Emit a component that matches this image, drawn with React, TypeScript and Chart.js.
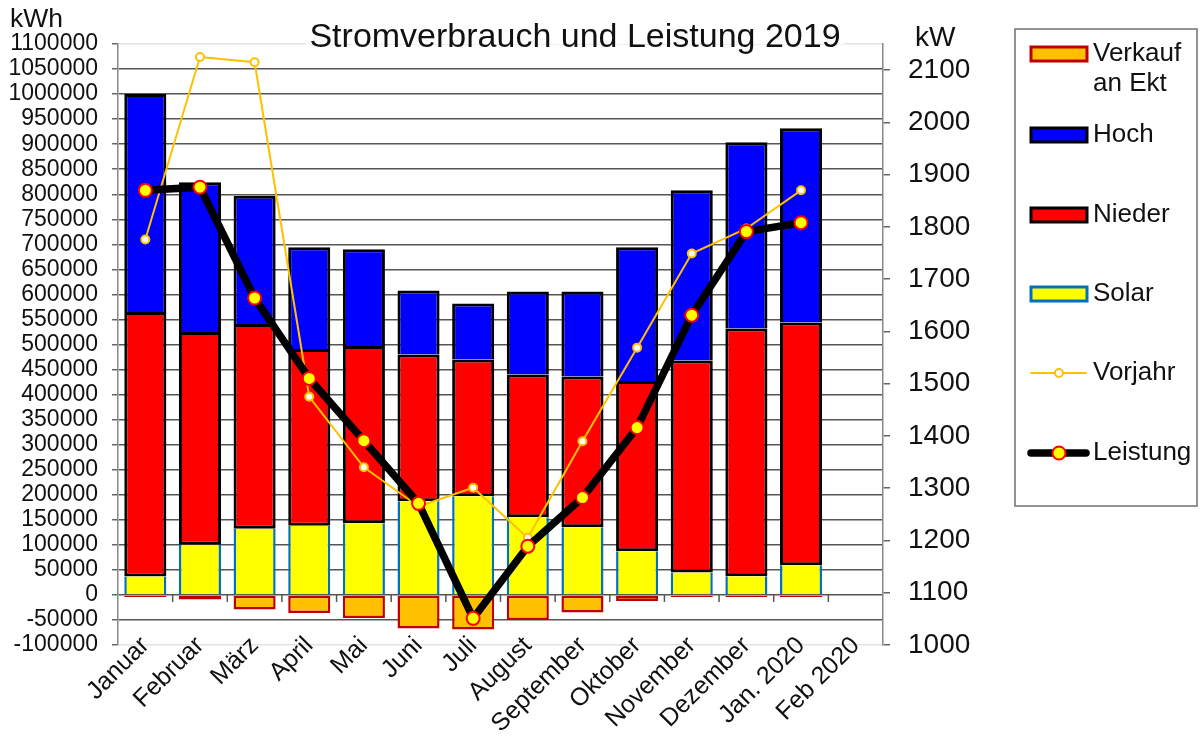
import React, { useEffect, useRef } from 'react';
import { Chart, registerables } from 'chart.js';

Chart.register(...registerables);

const FONT = '"Liberation Sans", Arial, Helvetica, sans-serif';

const categories = ['Januar', 'Februar', 'März', 'April', 'Mai', 'Juni', 'Juli', 'August', 'September', 'Oktober', 'November', 'Dezember', 'Jan. 2020', 'Feb 2020'];

// kWh (left axis)
const verkauf = [-4000, -9000, -29000, -36000, -46000, -67000, -69000, -50000, -35000, -12000, -4000, -4000, -4000, null];
const solar = [37000, 100000, 132000, 138000, 143000, 187000, 197000, 155000, 135000, 87000, 45000, 37500, 59000, null];
const nieder = [528000, 425000, 409000, 353000, 354000, 293000, 273000, 285000, 301000, 340000, 423000, 494500, 485000, null];
const hoch = [435000, 299000, 256000, 203000, 193000, 128000, 112000, 166000, 170000, 267000, 340000, 372000, 388000, null];

// kW (right axis)
const vorjahr = [1776, 2125, 2115, 1475, 1340, 1265, 1301, 1205, 1390, 1569, 1749, 1797, 1870, null];
const leistung = [1870, 1876, 1664, 1510, 1391, 1271, 1051, 1189, 1282, 1416, 1631, 1791, 1808, null];

const legendLabels = ['Verkauf\nan Ekt', 'Hoch', 'Nieder', 'Solar', 'Vorjahr', 'Leistung'];
const titleText = 'Stromverbrauch und Leistung 2019';

const decorPlugin = {
  id: 'decor',
  beforeDatasetsDraw(chart: any) {
    const { ctx, scales } = chart;
    const x = scales.x;
    const y = scales.y;
    const y0 = y.getPixelForValue(0);
    ctx.save();
    ctx.strokeStyle = '#555';
    ctx.lineWidth = 1.5;
    for (let i = 1; i < categories.length; i++) {
      const px = (x.getPixelForValue(i - 1) + x.getPixelForValue(i)) / 2;
      ctx.beginPath();
      ctx.moveTo(px, y0);
      ctx.lineTo(px, y0 + 7);
      ctx.stroke();
    }
    ctx.restore();
  },
  afterDraw(chart: any) {
    const { ctx } = chart;
    ctx.save();
    // title
    ctx.font = `34px ${FONT}`;
    const tw = ctx.measureText(titleText).width;
    const cx = 575;
    ctx.fillStyle = '#ffffff';
    ctx.fillRect(cx - tw / 2 - 4, 14, tw + 8, 30);
    ctx.fillStyle = '#111';
    ctx.textAlign = 'center';
    ctx.textBaseline = 'alphabetic';
    ctx.fillText(titleText, cx, 47);

    // axis unit labels
    ctx.textAlign = 'left';
    ctx.font = `26.5px ${FONT}`;
    ctx.fillText('kWh', 10, 27);
    ctx.font = `28px ${FONT}`;
    ctx.fillText('kW', 915, 46);

    // legend box
    ctx.strokeStyle = '#707070';
    ctx.lineWidth = 1.5;
    ctx.strokeRect(1015, 29, 182, 477);

    const ds = chart.data.datasets;
    const order = [0, 3, 2, 1, 5, 4]; // dataset indices in legend order
    const centers = [54, 135, 215, 294, 373, 453];
    ctx.font = `26px ${FONT}`;
    ctx.textBaseline = 'middle';
    order.forEach((di: number, k: number) => {
      const d = ds[di];
      const cy = centers[k];
      if (d.type === 'line') {
        ctx.strokeStyle = d.borderColor;
        ctx.lineWidth = d.borderWidth;
        ctx.lineCap = 'round';
        ctx.beginPath();
        ctx.moveTo(1031, cy);
        ctx.lineTo(1086, cy);
        ctx.stroke();
        ctx.beginPath();
        ctx.arc(1059, cy, d.pointRadius, 0, Math.PI * 2);
        ctx.fillStyle = d.pointBackgroundColor;
        ctx.fill();
        ctx.strokeStyle = d.pointBorderColor;
        ctx.lineWidth = d.pointBorderWidth;
        ctx.stroke();
      } else {
        ctx.fillStyle = d.backgroundColor;
        ctx.fillRect(1031, cy - 7, 56, 14);
        ctx.strokeStyle = d.legendBorder;
        ctx.lineWidth = 3;
        ctx.strokeRect(1031, cy - 7, 56, 14);
      }
      ctx.fillStyle = '#111';
      const lines = legendLabels[k].split('\n');
      lines.forEach((ln: string, li: number) => {
        ctx.fillText(ln, 1093, cy + li * 30);
      });
    });
    ctx.restore();
  },
};

export default function App() {
  const ref = useRef<HTMLCanvasElement | null>(null);

  useEffect(() => {
    if (!ref.current) return;
    const chart = new Chart(ref.current, {
      type: 'bar',
      data: {
        labels: categories,
        datasets: [
          {
            type: 'bar',
            label: 'Verkauf an Ekt',
            data: verkauf,
            backgroundColor: '#FFC000',
            borderColor: '#C00000',
            legendBorder: '#C00000',
            borderWidth: 2.5,
            borderSkipped: false,
            yAxisID: 'y',
            order: 10,
          } as any,
          {
            type: 'bar',
            label: 'Solar',
            data: solar,
            backgroundColor: '#FFFF00',
            borderColor: '#0070C0',
            legendBorder: '#0070C0',
            borderWidth: { left: 2.5, right: 2.5, top: 0, bottom: 0 },
            borderSkipped: false,
            yAxisID: 'y',
            order: 10,
          } as any,
          {
            type: 'bar',
            label: 'Nieder',
            data: nieder,
            backgroundColor: '#FF0000',
            borderColor: '#000000',
            legendBorder: '#000000',
            borderWidth: 3,
            borderSkipped: false,
            yAxisID: 'y',
            order: 10,
          } as any,
          {
            type: 'bar',
            label: 'Hoch',
            data: hoch,
            backgroundColor: '#0000FF',
            borderColor: '#000000',
            legendBorder: '#000000',
            borderWidth: { left: 3, right: 3, top: 3, bottom: 0 },
            borderSkipped: false,
            yAxisID: 'y',
            order: 10,
          } as any,
          {
            type: 'line',
            label: 'Leistung',
            data: leistung,
            yAxisID: 'y1',
            borderColor: '#000000',
            borderWidth: 7.5,
            pointRadius: 6.5,
            pointBackgroundColor: '#FFFF00',
            pointBorderColor: '#FF0000',
            pointBorderWidth: 2,
            tension: 0,
            order: 0,
          } as any,
          {
            type: 'line',
            label: 'Vorjahr',
            data: vorjahr,
            yAxisID: 'y1',
            borderColor: '#FFC000',
            borderWidth: 2,
            pointRadius: 4,
            pointBackgroundColor: '#FFFFFF',
            pointBorderColor: '#FFC000',
            pointBorderWidth: 2,
            tension: 0,
            order: 1,
          } as any,
        ],
      },
      options: {
        responsive: true,
        maintainAspectRatio: false,
        animation: false,
        layout: { padding: { left: 0, top: 44, right: 231, bottom: 0 } },
        plugins: {
          legend: { display: false },
          tooltip: { enabled: false },
          title: { display: false },
        },
        datasets: {
          bar: { categoryPercentage: 0.77, barPercentage: 1.0 },
        },
        scales: {
          x: {
            stacked: true,
            grid: { display: false, drawTicks: false },
            border: { display: false },
            ticks: {
              font: { family: FONT, size: 25 },
              color: '#111',
              maxRotation: 45,
              minRotation: 45,
              autoSkip: false,
              padding: -14,
            },
            afterFit: (s: any) => {
              s.height = 94;
              // let the rotated labels start slightly above the axis box without clipping
              s._computeLabelArea = () => undefined;
            },
          },
          y: {
            stacked: true,
            position: 'left',
            min: -100000,
            max: 1100000,
            ticks: {
              stepSize: 50000,
              autoSkip: false,
              font: { family: FONT, size: 23 },
              color: '#111',
              padding: 14,
              callback: (v: any) => String(v),
            },
            grid: {
              color: (c: any) =>
                c.tick && (c.tick.value === 1100000 || c.tick.value === -100000) ? '#e2e2e2' : '#555555',
              lineWidth: 1.5,
              tickLength: 6,
              tickColor: '#666',
            },
            border: { display: true, color: '#888', width: 1.5 },
            afterFit: (s: any) => {
              s.width = 118;
            },
          },
          y1: {
            position: 'right',
            min: 1000,
            max: 2150,
            ticks: {
              stepSize: 100,
              includeBounds: false,
              autoSkip: false,
              font: { family: FONT, size: 28 },
              color: '#111',
              padding: 18,
              callback: (v: any) => String(v),
            },
            grid: { drawOnChartArea: false, tickLength: 7, tickColor: '#666', lineWidth: 1.5 },
            border: { display: true, color: '#888', width: 1.5 },
            afterFit: (s: any) => {
              s.width = 90;
            },
          },
        },
      } as any,
      plugins: [decorPlugin],
    });
    return () => chart.destroy();
  }, []);

  return (
    <div style={{ position: 'fixed', left: 0, top: 0, width: 1204, height: 739, background: '#ffffff' }}>
      <canvas ref={ref} />
    </div>
  );
}
